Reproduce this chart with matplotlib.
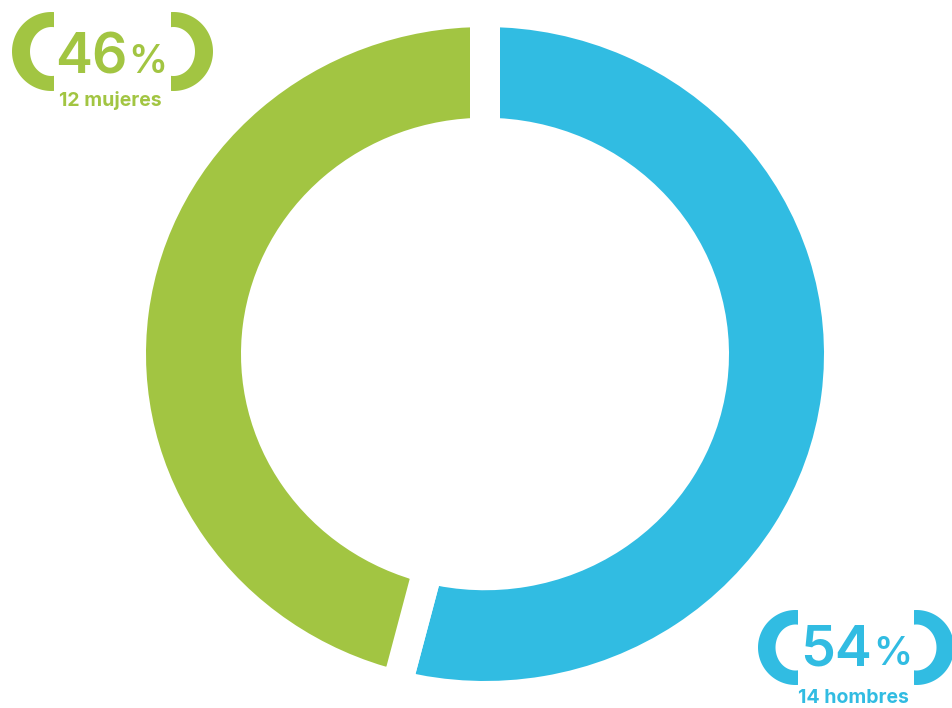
import numpy as np
import matplotlib
matplotlib.use("Agg")
import matplotlib.pyplot as plt
from matplotlib.patches import Polygon

# ---- data ----
categories = ["14 hombres", "12 mujeres"]
counts = [14, 12]
percents = [54, 46]
colors = ["#31BCE2", "#A2C542"]

# ---- layout (pixels) ----
W, H = 953, 708
cx_px, cy_px = 485, 354          # donut centre (from top-left)
rx_px, ry_px = 354, 342          # pie radius incl. half white stroke
ring_px = 125                    # ring thickness incl. stroke
gap_px = 30                      # white gap between slices

fig = plt.figure(figsize=(W / 100, H / 100), dpi=100)
fig.patch.set_facecolor("white")

ax = fig.add_axes([0, 0, 1, 1])
lw_pt = gap_px * 72 / 100
ax.pie(percents, colors=colors, startangle=90, counterclock=False, radius=1,
       wedgeprops=dict(width=ring_px / rx_px, edgecolor="white", linewidth=lw_pt,
                       joinstyle="miter"))
ax.set_aspect("auto")
ax.set_xlim(-cx_px / rx_px, (W - cx_px) / rx_px)
ax.set_ylim(-(H - cy_px) / ry_px, cy_px / ry_px)
ax.axis("off")

# overlay axes in pixel coords for labels
ov = fig.add_axes([0, 0, 1, 1])
ov.set_xlim(0, W)
ov.set_ylim(H, 0)
ov.axis("off")
ov.patch.set_alpha(0)


def bracket(cx, cy, R, a, b, side, color, d=2.5):
    s = 1 if side == "left" else -1
    t0 = np.arccos(d / R)
    th = np.linspace(t0, 2 * np.pi - t0, 80)
    ox = cx + s * R * np.cos(th)
    oy = cy + R * np.sin(th)
    p0 = np.arccos(d / a)
    ph = np.linspace(2 * np.pi - p0, p0, 80)
    ix = cx + s * a * np.cos(ph)
    iy = cy + b * np.sin(ph)
    pts = np.column_stack([np.concatenate([ox, ix]), np.concatenate([oy, iy])])
    ov.add_patch(Polygon(pts, closed=True, facecolor=color, edgecolor="none"))


FONT = "Inter"

# label specs
labels = [
    (percents[1], categories[1], colors[1], 51.5, 173.5, 51.5, 39.5, 21.5, 24.5, 55, 73, 110.5, 106),
    (percents[0], categories[0], colors[0], 795.5, 916.5, 647.5, 37.5, 20.0, 23.0, 800, 665, 853.5, 703),
]
for pct, sub, col, lcx, rcx, bcy, R, a, b, nx, by, scx, sby in labels:
    bracket(lcx, bcy, R, a, b, "left", col)
    bracket(rcx, bcy, R, a, b, "right", col)
    t = ov.text(nx, by, f"{pct}", color=col, fontsize=40, family=FONT,
                fontweight="semibold", ha="left", va="baseline")
    fig.canvas.draw()
    bb = t.get_window_extent()
    ov.text(bb.x1 + 1, by, "%", color=col, fontsize=28, family=FONT,
            fontweight="semibold", ha="left", va="baseline")
    ov.text(scx, sby, sub, color=col, fontsize=14, family=FONT,
            fontweight="bold", ha="center", va="baseline")

fig.savefig("out.png", dpi=100, facecolor="white")
